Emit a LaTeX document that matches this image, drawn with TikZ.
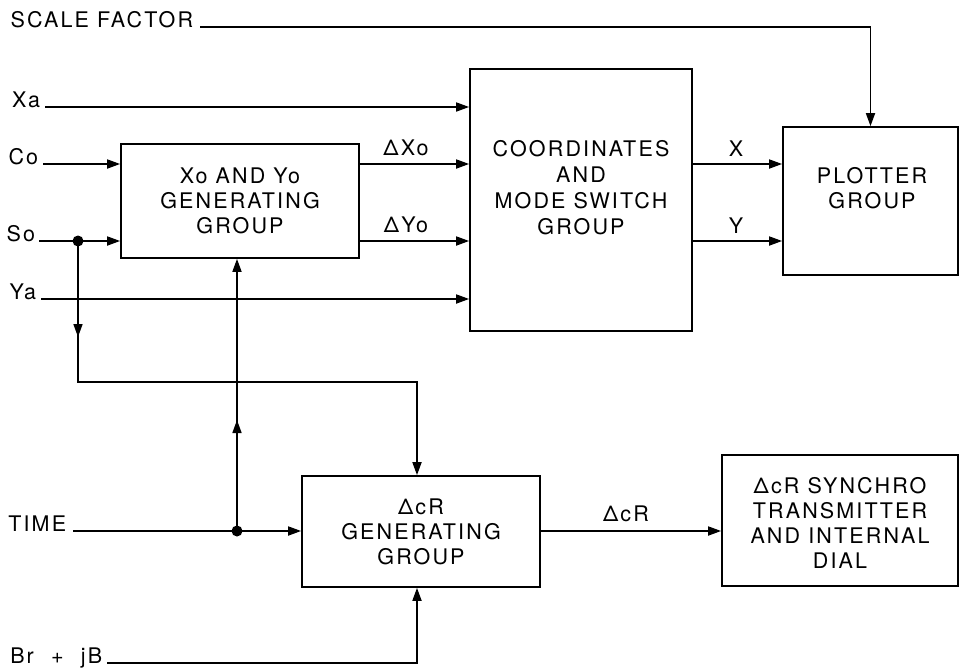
\documentclass[tikz,border=0pt]{standalone}
\usepackage{fontspec}
\setmainfont{TeX Gyre Heros}[LetterSpace=10]
\usetikzlibrary{arrows.meta,decorations.markings}
\begin{document}
\begin{tikzpicture}[x=1pt,y=-1pt, line width=1.7pt,
  every node/.style={font=\fontsize{21.5}{25}\selectfont, inner sep=0pt},
  blk/.style={draw, rectangle, inner sep=0pt, line width=1.7pt},
  arr/.style={-{Triangle[length=13pt,width=9pt]}},
  jdot/.style={circle, fill, minimum size=11pt, inner sep=0pt},
  midarrow/.style={decoration={markings, mark=at position #1 with {\arrow{Triangle[length=13pt,width=9pt]}}}, postaction=decorate}]
\useasboundingbox (0,0) rectangle (962,672);
% blocks
\node[blk, minimum width=238pt, minimum height=114pt, align=center] (xy) at (240,201) {Xo AND Yo\\GENERATING\\GROUP};
\node[blk, minimum width=222pt, minimum height=262pt] (coord) at (581,200) {};
\node[align=center, font=\fontsize{21.5}{26}\selectfont] (coordT) at (581,188) {COORDINATES\\AND\\MODE SWITCH\\GROUP};
\node[blk, minimum width=175pt, minimum height=148pt] (plot) at (870.5,201) {};
\node[align=center] (plotT) at (872,188) {PLOTTER\\GROUP};
\node[blk, minimum width=238pt, minimum height=111pt, align=center] (dcr) at (421,531.5) {ΔcR\\GENERATING\\GROUP};
\node[blk, minimum width=236pt, minimum height=131pt] (syn) at (840,520.5) {};
\node[align=center] (synT) at (840,523) {ΔcR SYNCHRO\\TRANSMITTER\\AND INTERNAL\\DIAL};
% input labels and start points
\coordinate (sfS) at (200,27);
\node[anchor=base east] (sf) at (194,27) {SCALE FACTOR};
\coordinate (xaS) at (45,107);
\node[anchor=base east] (xa) at (41,107) {Xa};
\coordinate (coS) at (43,164);
\node[anchor=base east] (co) at (39,164) {Co};
\coordinate (soS) at (39,241);
\node[anchor=base east] (so) at (36,241) {So};
\coordinate (yaS) at (41,299);
\node[anchor=base east] (ya) at (37,299) {Ya};
\coordinate (tS) at (73,531);
\node[anchor=base east] (time) at (67,531) {TIME};
\coordinate (bS) at (107,663);
\node[anchor=base east] (br) at (103,663) {Br\hspace{0.8em}+\hspace{0.8em}jB};
% connector labels
\node[anchor=base] (dxo) at (406,155) {ΔXo};
\node[anchor=base] (dyo) at (406,232) {ΔYo};
\node[anchor=base] (xl) at (736,156) {X};
\node[anchor=base] (yl) at (736,233) {Y};
\node[anchor=base] (dcrl) at (626,521) {ΔcR};
% junction dots
\node[jdot] (sodot) at (78,241) {};
\node[jdot] (tdot) at (237,531) {};
% connectors
\draw[arr] (sfS) -| (plot.north);
\draw[arr] (xaS) -- (xaS -| coord.west);
\draw[arr] (coS) -- (coS -| xy.west);
\draw[arr] (soS) -- (soS -| xy.west);
\draw[arr] (yaS) -- (yaS -| coord.west);
\draw[arr] (xy.east |- coS) -- (coord.west |- coS);
\draw[arr] (xy.east |- soS) -- (coord.west |- soS);
\draw[arr] (coord.east |- coS) -- (plot.west |- coS);
\draw[arr] (coord.east |- soS) -- (plot.west |- soS);
\coordinate (bend) at (78,382);
\draw[arr, midarrow=96pt] (sodot.center) -- (bend) -| ([xshift=-4pt]dcr.north);
\draw[arr] (tS) -- (tS -| dcr.west);
\draw[arr, midarrow=111pt] (tdot.center) -- (tdot |- xy.south);
\draw[arr] (dcr.east |- tS) -- (syn.west |- tS);
\draw[arr] (bS) -| ([xshift=-4pt]dcr.south);
\end{tikzpicture}
\end{document}
